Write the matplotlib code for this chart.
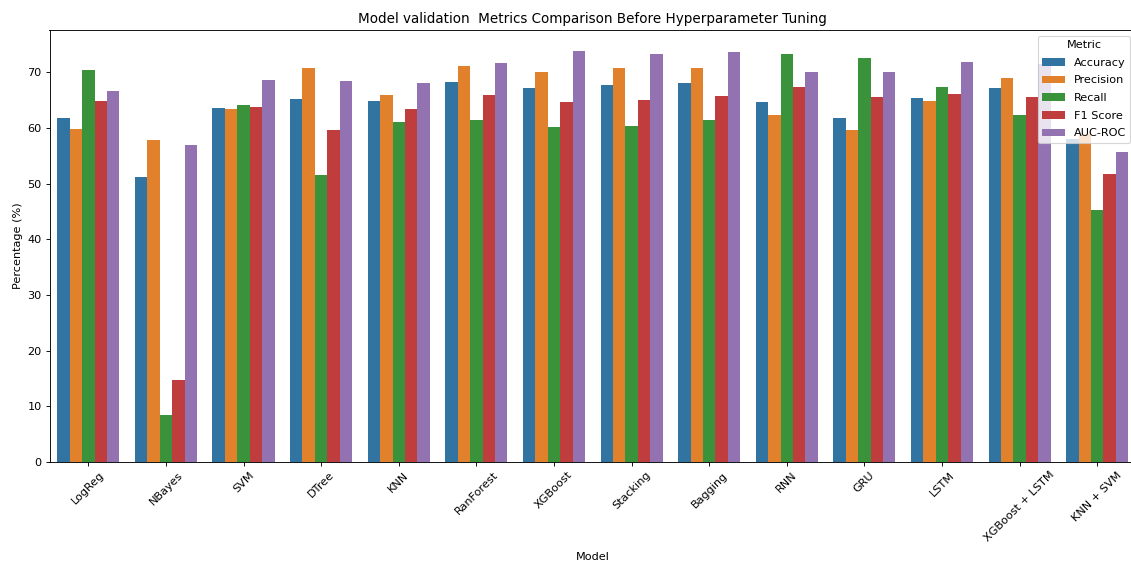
import pandas as pd
import matplotlib
matplotlib.use('Agg')
import matplotlib.pyplot as plt
import seaborn as sns

# model names and metric values (%)
models = ['LogReg', 'NBayes', 'SVM', 'DTree', 'KNN', 'RanForest', 'XGBoost',
          'Stacking', 'Bagging', 'RNN', 'GRU', 'LSTM', 'XGBoost + LSTM', 'KNN + SVM']
metrics = ['Accuracy', 'Precision', 'Recall', 'F1 Score', 'AUC-ROC']

accuracy = [61.7, 51.2, 63.6, 65.2, 64.8, 68.3, 67.1, 67.7, 68.0, 64.7, 61.7, 65.3, 67.1, 58.0]
precision = [59.8, 57.8, 63.4, 70.7, 65.9, 71.1, 70.1, 70.7, 70.8, 62.4, 59.6, 64.8, 68.9, 59.0]
recall = [70.4, 8.4, 64.1, 51.5, 61.1, 61.4, 60.2, 60.3, 61.4, 73.3, 72.6, 67.4, 62.4, 45.3]
f1_score = [64.8, 14.7, 63.8, 59.6, 63.4, 65.9, 64.7, 65.1, 65.8, 67.4, 65.5, 66.1, 65.5, 51.7]
auc_roc = [66.6, 56.9, 68.6, 68.4, 68.0, 71.6, 73.9, 73.3, 73.6, 70.1, 70.1, 71.8, 71.5, 55.6]

# long format for seaborn
values = [accuracy, precision, recall, f1_score, auc_roc]
rows = []
for metric, vals in zip(metrics, values):
    for model, v in zip(models, vals):
        rows.append({'Model': model, 'Metric': metric, 'Percentage (%)': v})
df = pd.DataFrame(rows)

fig = plt.figure(figsize=(1131 / 81, 563 / 81), dpi=81)
ax = fig.add_axes([49.5 / 1131, 1 - 462 / 563, (1136 - 49.5) / 1131, (462 - 30) / 563])

sns.barplot(data=df, x='Model', y='Percentage (%)', hue='Metric', ax=ax)

ax.set_title('Model validation  Metrics Comparison Before Hyperparameter Tuning')
ax.set_xlabel('Model', labelpad=7)
ax.set_ylabel('Percentage (%)')
plt.setp(ax.get_xticklabels(), rotation=45)
ax.legend(title='Metric', loc='upper right', labelspacing=0.68)

plt.savefig('out.png', dpi=81)
